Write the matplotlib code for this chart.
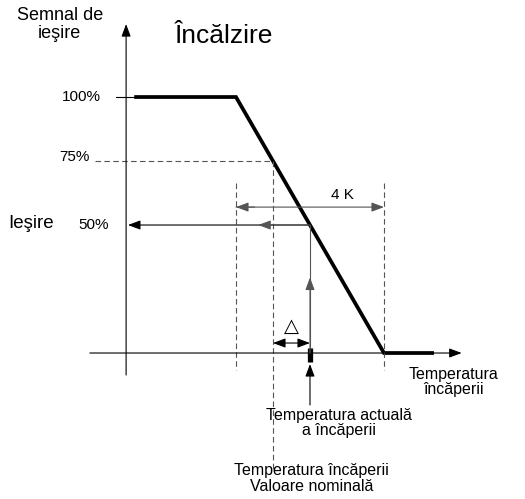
import matplotlib
matplotlib.use('Agg')
import matplotlib.pyplot as plt

plt.rcParams['font.family'] = ['Liberation Sans', 'DejaVu Sans']

# heating curve: room temperature (K relative to setpoint) vs output signal (%)
ramp_temp = [-3.7, -1.0, 3.0, 4.3]
ramp_output = [100, 100, 0, 0]

setpoint = 0.0
actual_temp = 1.0
band = [-1.0, 3.0]          # 4 K proportional band
levels = [100, 75, 50]
level_labels = ['100%', '75%', '50%']

fig = plt.figure(figsize=(5.25, 4.99), dpi=100)
ax = fig.add_axes([0, 0, 1, 1])
ax.set_xlim(-7.378, 6.811)
ax.set_ylim(-57.03, 137.9)
ax.axis('off')

grey = '#555555'
thin = 0.8


def arrow(x0, y0, x1, y1, color='black', style='-|>', lw=thin):
    ax.annotate('', xy=(x1, y1), xytext=(x0, y0),
                arrowprops=dict(arrowstyle=style + ',head_length=0.75,head_width=0.28',
                                color=color, lw=lw, shrinkA=0, shrinkB=0))


# axes
y_axis_x = -3.97
arrow(y_axis_x, -8.6, y_axis_x, 128.5)
arrow(-4.95, 0, 5.1, 0)

# heating curve
ax.plot(ramp_temp, ramp_output, color='black', lw=2.7, solid_joinstyle='miter')
ax.plot([-4.24, ramp_temp[0]], [levels[0], levels[0]], color='black', lw=thin)

# dashed guides
ax.plot([-4.81, setpoint], [levels[1], levels[1]], color=grey, lw=thin, ls=(0, (5, 3)))
ax.plot([setpoint, setpoint], [levels[1], -45.7], color=grey, lw=thin, ls=(0, (5, 3)))
for b in band:
    ax.plot([b, b], [66.4, -6.6], color=grey, lw=thin, ls=(0, (5, 3)))

# 4 K band arrow
arrow(band[0] + 0.5, 57.0, band[0], 57.0, color=grey)
arrow(band[0], 57.0, band[1], 57.0, color=grey)
ax.text(1.89, 61.8, '4 K', fontsize=11, ha='center', va='center')

# output at actual temperature
arrow(actual_temp, levels[2], y_axis_x + 0.05, levels[2])
arrow(actual_temp, levels[2], -0.4, levels[2], color=grey)
ax.plot([actual_temp, actual_temp], [0, levels[2]], color=grey, lw=thin)
arrow(actual_temp, 0, actual_temp, 29.5, color=grey)

# delta arrow
arrow(setpoint, 3.9, actual_temp, 3.9, style='<|-|>')
ax.text(0.51, 10.5, '\u25b3', fontsize=14, ha='center', va='center', family='DejaVu Sans')

# actual temperature marker
ax.plot([actual_temp, actual_temp], [1.8, -3.5], color='black', lw=3.8, solid_capstyle='butt')
arrow(actual_temp, -20.3, actual_temp, -4.3)

# labels
ax.text(-5.76, 128.3, 'Semnal de\nie\u015fire', fontsize=13, ha='center', va='center',
        linespacing=1.05)
ax.text(-2.65, 123.8, '\u00cenc\u0103lzire', fontsize=19, ha='left', va='center')
ax.text(-4.65, 100, level_labels[0], fontsize=11, ha='right', va='center')
ax.text(-4.95, 76.5, level_labels[1], fontsize=11, ha='right', va='center')
ax.text(-4.43, 50, level_labels[2], fontsize=11, ha='right', va='center')
ax.text(-7.16, 50.5, 'Ie\u015fire', fontsize=13.5, ha='left', va='center')
ax.text(4.88, -11.3, 'Temperatura\n\u00eenc\u0103perii', fontsize=11.5, ha='center',
        va='center', linespacing=1.05)
ax.text(1.78, -27.3, 'Temperatura actual\u0103\na \u00eenc\u0103perii', fontsize=11.5,
        ha='center', va='center', linespacing=1.05)
ax.text(1.05, -49.0, 'Temperatura \u00eenc\u0103perii\nValoare nominal\u0103', fontsize=11.5,
        ha='center', va='center', linespacing=1.05)

fig.savefig('out.png', dpi=100)
